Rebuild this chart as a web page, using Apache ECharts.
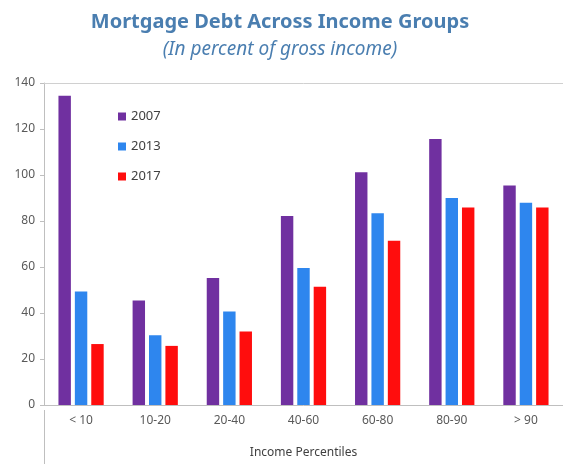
<!DOCTYPE html>
<html>
<head>
<meta charset="utf-8">
<script src="https://cdn.jsdelivr.net/npm/echarts@6/dist/echarts.min.js"></script>
<style>
  html, body { margin: 0; padding: 0; background: #fff; }
  #main { width: 563px; height: 464px; }
</style>
</head>
<body>
<div id="main"></div>
<script>
const categories = ['< 10', '10-20', '20-40', '40-60', '60-80', '80-90', '> 90'];
const years = ['2007', '2013', '2017'];
const values2007 = [134.5, 45.4, 55.2, 82.2, 101.2, 115.7, 95.4];
const values2013 = [49.3, 30.3, 40.6, 59.6, 83.4, 90.0, 87.9];
const values2017 = [26.5, 25.7, 32.0, 51.4, 71.4, 85.9, 85.9];
const yTicks = [0, 140, 20]; // min, max, interval

const colors = ['#7030a0', '#2e86ee', '#ff0d0d'];
const seriesData = [values2007, values2013, values2017];

let myChart = echarts.init(document.getElementById('main'));

let option = {
  animation: false,
  title: {
    text: 'Mortgage Debt Across Income Groups',
    subtext: '(In percent of gross income)',
    left: 275,
    textAlign: 'center',
    top: 7,
    itemGap: 8,
    textStyle: {
      fontFamily: 'Noto Sans',
      fontWeight: 'bold',
      fontSize: 20,
      color: '#4a7eb0'
    },
    subtextStyle: {
      fontFamily: 'Noto Sans',
      fontStyle: 'italic',
      fontSize: 19,
      color: '#4a7eb0'
    }
  },
  legend: {
    orient: 'vertical',
    left: 113,
    top: 105,
    icon: 'rect',
    itemWidth: 8,
    itemHeight: 8,
    itemGap: 17,
    textStyle: {
      fontFamily: 'Noto Sans',
      fontSize: 13,
      color: '#404040'
    },
    data: years
  },
  grid: {
    left: 44,
    right: -4,
    top: 83,
    bottom: 53
  },
  xAxis: [
    {
      type: 'category',
      data: categories,
      name: 'Income Percentiles',
      nameLocation: 'middle',
      nameGap: 42,
      nameTextStyle: {
        fontFamily: 'Noto Sans',
        fontSize: 12,
        color: '#404040'
      },
      axisLine: { lineStyle: { color: '#bfbfbf', width: 1 } },
      axisTick: { length: 27, lineStyle: { color: '#bfbfbf' } },
      axisLabel: {
        margin: 10,
        fontFamily: 'Noto Sans',
        fontSize: 12,
        color: '#595959'
      }
    },
    {
      type: 'category',
      data: categories,
      position: 'top',
      axisLine: { lineStyle: { color: '#d0d0d0', width: 1 } },
      axisTick: { show: false },
      axisLabel: { show: false }
    }
  ],
  yAxis: {
    type: 'value',
    min: yTicks[0],
    max: yTicks[1],
    interval: yTicks[2],
    axisLine: { show: true, lineStyle: { color: '#bfbfbf' } },
    axisTick: { show: true, length: 4, lineStyle: { color: '#bfbfbf' } },
    splitLine: { show: false },
    axisLabel: {
      margin: 9,
      fontFamily: 'Noto Sans',
      fontSize: 12,
      color: '#595959'
    }
  },
  graphic: [
    {
      type: 'line',
      shape: { x1: 44.5, y1: 410, x2: 44.5, y2: 464 },
      style: { stroke: '#bfbfbf', lineWidth: 1 }
    }
  ],
  series: years.map((y, i) => ({
    name: y,
    type: 'bar',
    data: seriesData[i],
    barGap: '32%',
    barCategoryGap: '39%',
    itemStyle: {
      color: colors[i]
    }
  }))
};

myChart.setOption(option);
</script>
</body>
</html>
